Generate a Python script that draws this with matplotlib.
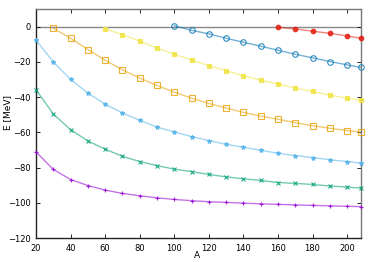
import numpy as np
import matplotlib
matplotlib.use('Agg')
import matplotlib.pyplot as plt

# Mass numbers (last point at A=208)
A_full = [20, 30, 40, 50, 60, 70, 80, 90, 100, 110, 120, 130, 140, 150,
          160, 170, 180, 190, 200, 208]

# Single-particle energies [MeV]
e_purple = [-71.1, -81.1, -86.8, -90.2, -92.8, -94.7, -96.0, -97.2, -98.1, -98.8,
            -99.4, -99.8, -100.2, -100.6, -100.9, -101.2, -101.5, -101.7, -102.0, -102.2]
e_green = [-35.8, -49.6, -58.5, -64.9, -69.6, -73.6, -76.6, -78.9, -80.9, -82.3,
           -83.9, -85.3, -86.4, -87.3, -88.5, -89.0, -89.6, -90.5, -91.1, -91.7]
e_skyblue = [-7.7, -20.0, -30.0, -37.7, -44.0, -49.0, -53.2, -57.0, -59.8, -62.4,
             -64.7, -66.8, -68.5, -70.2, -71.9, -73.2, -74.3, -75.6, -76.6, -77.5]
A_orange = A_full[1:]
e_orange = [-0.9, -6.6, -13.0, -19.1, -24.5, -29.2, -33.4, -37.2, -40.6,
            -43.6, -46.2, -48.7, -50.8, -52.6, -54.5, -56.2, -57.7, -59.0, -59.8]
A_yellow = A_full[4:]
e_yellow = [-1.3, -4.5, -8.3, -12.1, -15.7, -18.9, -22.1, -25.1, -27.9, -30.4,
            -32.6, -34.9, -36.8, -38.9, -40.6, -41.9]
A_blue = A_full[8:]
e_blue = [0.5, -2.1, -4.1, -6.6, -8.9, -11.1, -13.4, -15.7, -17.7, -19.8, -21.7, -23.2]
A_red = A_full[14:]
e_red = [-0.4, -1.3, -2.6, -3.8, -5.3, -6.6]

fig = plt.figure(figsize=(3.74, 2.62), dpi=100)
ax = fig.add_axes([0.0963, 0.0916, 0.8687, 0.874])

ax.axhline(0, color='#888888', lw=1.0, zorder=1)

series = [
    (A_full, e_purple, '#9400d3', '+', 'full'),
    (A_full, e_green, '#009e73', 'x', 'full'),
    (A_full, e_skyblue, '#56b4e9', '*', 'full'),
    (A_orange, e_orange, '#e69f00', 's', 'none'),
    (A_yellow, e_yellow, '#f0e442', 's', 'full'),
    (A_blue, e_blue, '#0072b2', 'o', 'none'),
    (A_red, e_red, '#e51e10', 'o', 'full'),
]
for xs, ys, col, mk, fill in series:
    ax.plot(xs, ys, color=col, lw=1.0, alpha=0.55, zorder=2, clip_on=False)
    if fill == 'none':
        ax.plot(xs, ys, ls='none', marker=mk, ms=4, mfc='none', mec=col,
                mew=0.8, alpha=0.8, zorder=3, clip_on=False)
    else:
        ax.plot(xs, ys, ls='none', marker=mk, ms=3.3, color=col, mec=col,
                mew=0.8, alpha=0.85, zorder=3, clip_on=False)

ax.set_xlim(20, 208)
ax.set_ylim(-120, 10)
ax.set_xticks(range(20, 201, 20))
ax.set_yticks(range(-120, 1, 20))
ax.tick_params(direction='in', labelsize=6, length=3, width=0.6,
               top=True, right=True, pad=4)
for s in ['left', 'bottom']:
    ax.spines[s].set_color('#222222')
    ax.spines[s].set_linewidth(1.0)
for s in ['top', 'right']:
    ax.spines[s].set_color('#777777')
    ax.spines[s].set_linewidth(1.0)

ax.set_xlabel('A', fontsize=6.5)
ax.set_ylabel('E [MeV]', fontsize=6.5)
ax.xaxis.set_label_coords(0.495, -0.055)
ax.yaxis.set_label_coords(-0.072, 0.55)

fig.savefig('out.png', dpi=100)
